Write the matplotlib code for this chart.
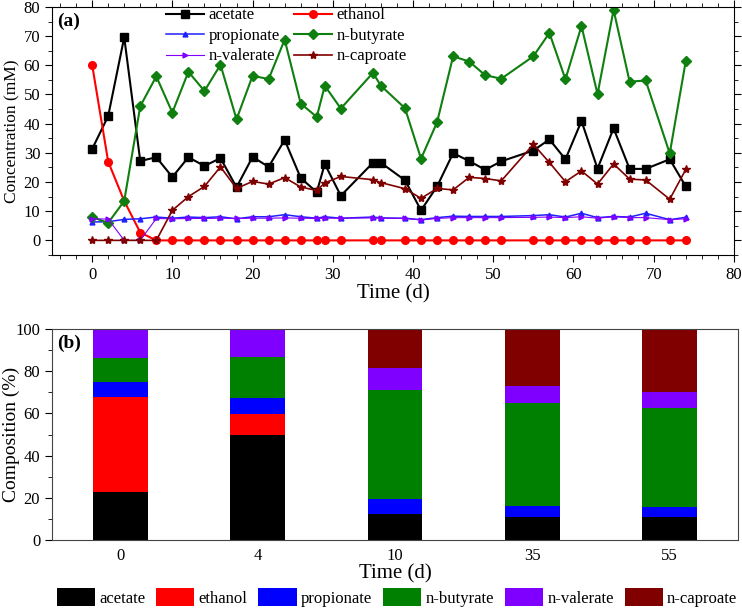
import numpy as np
import matplotlib
matplotlib.use('Agg')
from matplotlib import pyplot as plt
from matplotlib.ticker import MultipleLocator
from matplotlib.patches import Patch

plt.rcParams['font.family'] = ['Liberation Serif', 'DejaVu Serif']

# (a) concentration time series
time = [0, 2, 4, 6, 8, 10, 12, 14, 16, 18, 20, 22, 24, 26, 28, 29, 31, 35, 36, 39,
        41, 43, 45, 47, 49, 51, 55, 57, 59, 61, 63, 65, 67, 69, 72, 74]
acetate = [31.3, 42.6, 69.6, 27.2, 28.5, 21.7, 28.5, 25.5, 28.2, 18.2,
           28.6, 25.2, 34.4, 21.4, 16.5, 26.2, 15.3, 26.6, 26.6, 20.6,
           10.3, 18.5, 29.9, 27.2, 24.2, 27.1, 30.8, 34.6, 27.8, 40.9,
           24.6, 38.4, 24.5, 24.5, 27.8, 18.5]
ethanol = [60.2, 27.0, 13.5, 2.7, 0, 0, 0, 0, 0, 0,
           0, 0, 0, 0, 0, 0, 0, 0, 0, 0,
           0, 0, 0, 0, 0, 0, 0, 0, 0, 0,
           0, 0, 0, 0, 0, 0]
propionate = [6.3, 6.4, 7.2, 7.4, 8.0, 7.6, 8.0, 7.8, 8.1, 7.4,
              8.1, 8.1, 8.8, 8.1, 7.6, 8.1, 7.6, 8.0, 7.7, 7.6,
              7.1, 7.8, 8.3, 8.2, 8.2, 8.2, 8.5, 8.8, 8.0, 9.3,
              7.8, 8.2, 8.0, 9.3, 7.1, 7.9]
butyrate = [8.0, 6.0, 13.5, 46.0, 56.2, 43.8, 57.8, 51.2, 60.2, 41.5,
            56.4, 55.3, 68.8, 46.9, 42.3, 53.0, 45.2, 57.4, 53.0, 45.3,
            28.0, 40.5, 63.1, 61.3, 56.6, 55.4, 63.1, 71.1, 55.2, 73.5,
            50.1, 79.0, 54.4, 54.8, 29.8, 61.5]
valerate = [7.4, 7.3, 0, 0, 7.5, 7.4, 7.5, 7.5, 7.6, 7.5,
            7.6, 7.6, 7.7, 7.6, 7.5, 7.6, 7.6, 7.7, 7.6, 7.5,
            7.0, 7.5, 7.8, 7.8, 7.8, 7.8, 7.9, 8.0, 7.8, 8.1,
            7.6, 8.1, 7.8, 7.8, 7.1, 7.4]
caproate = [0, 0, 0, 0, 0, 10.3, 15.0, 18.5, 25.2, 17.8,
            20.2, 19.3, 21.5, 18.3, 17.1, 19.7, 21.9, 20.8, 19.8, 17.7,
            14.4, 17.8, 17.3, 21.6, 21.2, 20.4, 32.9, 26.7, 20.1, 23.8,
            19.3, 26.2, 21.0, 20.7, 14.1, 24.3]

# (b) composition
days_b = ['0', '4', '10', '35', '55']
bar_acetate = [22.9, 49.7, 12.3, 10.8, 10.9]
bar_ethanol = [44.8, 9.8, 0, 0, 0]
bar_propionate = [7.0, 7.9, 7.0, 5.3, 4.8]
bar_butyrate = [11.7, 19.5, 51.7, 48.8, 47.1]
bar_valerate = [13.6, 13.1, 10.3, 8.2, 7.3]
bar_caproate = [0, 0, 18.7, 26.9, 29.9]

names = ['acetate', 'ethanol', 'propionate', 'n-butyrate', 'n-valerate', 'n-caproate']
line_cols = ['black', '#ff0000', '#2020ff', '#0f7f0f', '#8000ff', '#7f0000']
bar_cols = ['black', '#ff0000', '#0000ff', '#008000', '#8000ff', '#800000']

fig = plt.figure(figsize=(7.42, 6.11), dpi=100)
ax1 = fig.add_axes([0.0701, 0.5827, 0.919, 0.4059])
ax2 = fig.add_axes([0.0701, 0.1162, 0.9245, 0.3453])

series = [acetate, ethanol, propionate, butyrate, valerate, caproate]
markers = ['s', 'o', '^', 'D', '>', '*']
msizes = [5.5, 5.5, 3.5, 5, 3.5, 6]
lws = [1.5, 1.5, 1.1, 1.5, 0.8, 1.2]
handles = {}
for y, n, c, m, ms, lw in zip(series, names, line_cols, markers, msizes, lws):
    h, = ax1.plot(time, y, color=c, marker=m, markersize=ms, lw=lw, label=n,
                  markeredgecolor=c)
    handles[n] = h

ax1.set_xlim(-5, 80)
ax1.set_ylim(-5, 80)
ax1.xaxis.set_major_locator(MultipleLocator(10))
ax1.xaxis.set_minor_locator(MultipleLocator(2))
ax1.yaxis.set_major_locator(MultipleLocator(10))
ax1.yaxis.set_minor_locator(MultipleLocator(5))
ax1.tick_params(which='both', direction='out', top=True, right=True, labelsize=12)
ax1.tick_params(which='major', length=5)
ax1.tick_params(which='minor', length=3)
ax1.set_xlabel('Time (d)', fontsize=15, labelpad=1)
ax1.set_ylabel('Concentration (mM)', fontsize=12.5)
ax1.yaxis.set_label_coords(-0.047, 0.5)
ax1.text(0.008, 0.975, '(a)', transform=ax1.transAxes, fontsize=14,
         fontweight='bold', va='top', ha='left')
order = ['acetate', 'propionate', 'n-valerate', 'ethanol', 'n-butyrate', 'n-caproate']
ax1.legend([handles[n] for n in order], order, ncol=2, loc='upper left',
           bbox_to_anchor=(0.15, 1.045), frameon=False, fontsize=12,
           handlelength=2.3, handletextpad=0.25, columnspacing=0.85,
           labelspacing=0.27, borderpad=0.2)

# stacked bars
x = np.arange(len(days_b))
bottom = np.zeros(len(days_b))
for vals, c in zip([bar_acetate, bar_ethanol, bar_propionate, bar_butyrate,
                    bar_valerate, bar_caproate], bar_cols):
    ax2.bar(x, vals, width=0.4, bottom=bottom, color=c, edgecolor='none')
    bottom += np.array(vals)

ax2.set_xlim(-0.5, 4.5)
ax2.set_ylim(0, 100)
ax2.set_xticks(x)
ax2.set_xticklabels(days_b)
ax2.yaxis.set_major_locator(MultipleLocator(20))
ax2.yaxis.set_minor_locator(MultipleLocator(10))
ax2.tick_params(axis='x', length=0, labelsize=12, pad=6)
ax2.tick_params(axis='y', which='both', direction='out', labelsize=12)
ax2.tick_params(axis='y', which='major', length=5)
ax2.tick_params(axis='y', which='minor', length=3)
for s in ax2.spines.values():
    s.set_color('#444444')
    s.set_linewidth(0.8)
ax2.set_xlabel('Time (d)', fontsize=15, labelpad=0)
ax2.set_ylabel('Composition (%)', fontsize=14)
ax2.yaxis.set_label_coords(-0.046, 0.5)
ax2.text(0.008, 0.975, '(b)', transform=ax2.transAxes, fontsize=14,
         fontweight='bold', va='top', ha='left')

patches = [Patch(facecolor=c, label=n) for n, c in zip(names, bar_cols)]
fig.legend(handles=patches, loc='lower center', bbox_to_anchor=(0.535, -0.012),
           ncol=6, frameon=False, fontsize=12, handlelength=2.3, handleheight=1.2,
           handletextpad=0.25, columnspacing=0.65, borderpad=0.2)

fig.savefig('out.png', dpi=100)
